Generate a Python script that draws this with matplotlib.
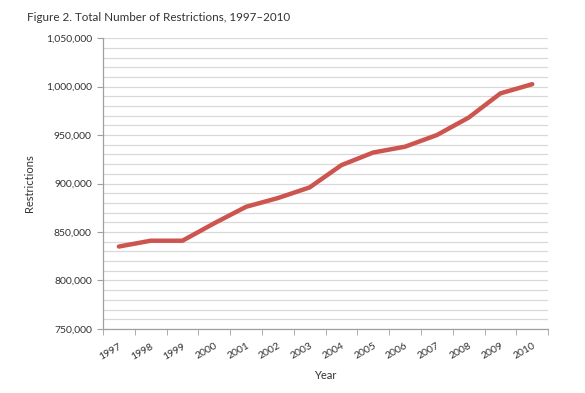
import matplotlib.pyplot as plt
from matplotlib.ticker import FuncFormatter, MultipleLocator

plt.rcParams['font.family'] = ['Lato', 'DejaVu Sans']

years = ['1997', '1998', '1999', '2000', '2001', '2002', '2003',
         '2004', '2005', '2006', '2007', '2008', '2009', '2010']
restrictions = [835000, 841000, 841000, 859000, 876000, 885000, 896000,
                919000, 932000, 938000, 950000, 968000, 993000, 1002500]

fig = plt.figure(figsize=(5.85, 3.93), dpi=100)
ax = fig.add_axes([0.176, 0.163, 0.761, 0.740])

x = list(range(len(years)))
ax.plot(x, restrictions, color='#cd5550', linewidth=3.2, solid_capstyle='round', zorder=3)

ax.set_xlim(-0.5, len(years) - 0.5)
ax.set_ylim(750000, 1050000)

# y axis: labels every 50k, grid every 10k
ax.yaxis.set_major_locator(MultipleLocator(50000))
ax.yaxis.set_minor_locator(MultipleLocator(10000))
ax.yaxis.set_major_formatter(FuncFormatter(lambda v, p: f'{int(v):,}'))
ax.grid(True, which='both', axis='y', color='#d9d9d9', linewidth=0.9, zorder=0)
ax.tick_params(axis='y', which='major', length=4, color='#a0a0a0', labelsize=7.5,
               labelcolor='#333333', pad=4)
ax.tick_params(axis='y', which='minor', length=0)

# x axis: category labels at centers, tick marks between categories
ax.set_xticks(x)
ax.set_xticklabels(years, rotation=30, ha='right', rotation_mode='anchor')
ax.set_xticks([i - 0.5 for i in range(len(years) + 1)], minor=True)
ax.tick_params(axis='x', which='major', length=0, labelsize=7.5, labelcolor='#333333', pad=9)
ax.tick_params(axis='x', which='minor', length=4, color='#a0a0a0')

for s in ['top', 'right']:
    ax.spines[s].set_visible(False)
for s in ['left', 'bottom']:
    ax.spines[s].set_color('#a0a0a0')
    ax.spines[s].set_linewidth(0.9)

ax.set_xlabel('Year', fontsize=8, color='#333333', labelpad=6)
ax.set_ylabel('Restrictions', fontsize=8, color='#333333', labelpad=8)

fig.text(0.046, 0.955, 'Figure 2. Total Number of Restrictions, 1997\u20132010',
         fontsize=8.4, color='#333333', ha='left', va='center')

fig.savefig('out.png', dpi=100)
